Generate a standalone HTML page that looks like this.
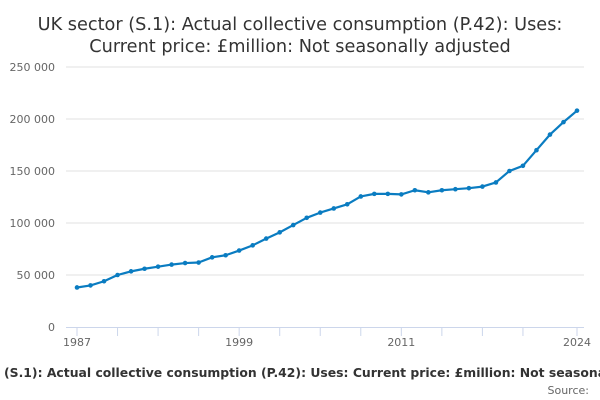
<!DOCTYPE html>
<html><head><meta charset="utf-8"><style>
html,body{margin:0;padding:0;background:#fff;width:600px;height:400px;overflow:hidden}
svg{font-family:"DejaVu Sans","Liberation Sans",sans-serif}
</style></head><body>
<svg id="chart" width="600" height="400">
<text x="300" y="30" text-anchor="middle" font-size="17.7" fill="#333"><tspan x="300" y="30">UK sector (S.1): Actual collective consumption (P.42): Uses:</tspan><tspan x="300" y="52">Current price: £million: Not seasonally adjusted</tspan></text>
<g id="grid"></g><g id="xaxis"></g><g id="series"></g>
<text x="4" y="377" font-size="12.4" font-weight="bold" fill="#333">(S.1): Actual collective consumption (P.42): Uses: Current price: £million: Not seasonally adjusted</text>
<text x="589" y="394" text-anchor="end" font-size="11" fill="#666">Source:</text>
</svg>
<script>
const years=[1987,1988,1989,1990,1991,1992,1993,1994,1995,1996,1997,1998,1999,2000,2001,2002,2003,2004,2005,2006,2007,2008,2009,2010,2011,2012,2013,2014,2015,2016,2017,2018,2019,2020,2021,2022,2023,2024];
const values=[38000,40000,44000,50000,53500,56000,58000,60000,61500,62000,67000,69000,73500,78500,85000,91000,98000,105000,110000,114000,118000,125500,128000,128000,127500,131500,129500,131500,132500,133500,135000,139000,150000,155000,170000,185000,197000,208000];
const yTicks=[0,50000,100000,150000,200000,250000];
const yTickLabels=["0","50 000","100 000","150 000","200 000","250 000"];
const xTickLabels=[1987,1999,2011,2024];
const xTickYears=[1987,1990,1993,1996,1999,2002,2005,2008,2011,2014,2017,2020,2024];
const NS="http://www.w3.org/2000/svg";
const x=v=>77+(v-1987)*(500/37);
const y=v=>327-v*(260/250000);
function mk(tag,attrs,parent,text){const e=document.createElementNS(NS,tag);for(const k in attrs)e.setAttribute(k,attrs[k]);if(text!==undefined)e.textContent=text;parent.appendChild(e);return e;}
const grid=document.getElementById('grid'),xa=document.getElementById('xaxis'),se=document.getElementById('series');
yTicks.forEach((t,i)=>{
  if(t>0){const l=mk('line',{x1:66,x2:584,y1:y(t),y2:y(t),stroke:'#e0e0e0','stroke-width':1},grid);
  
  }
  const tx=mk('text',{x:55,y:y(t)+4,'text-anchor':'end','font-size':11,fill:'#666'},grid,yTickLabels[i]);
  
  
});
const ax=mk('line',{x1:66,x2:584,y1:327.5,y2:327.5,stroke:'#ccd6eb','stroke-width':1},xa);


xTickYears.forEach(yr=>{
  const t=mk('line',{x1:x(yr),x2:x(yr),y1:328,y2:336,stroke:'#ccd6eb'},xa);
  
  
});
xTickLabels.forEach(yr=>{
  const t=mk('text',{x:x(yr),y:346,'text-anchor':'middle','font-size':11,fill:'#666'},xa,String(yr));
  
  
});
const pts=years.map((yr,i)=>x(yr)+','+y(values[i])).join(' ');
const pl=mk('polyline',{points:pts,fill:'none',stroke:'#0a7cc1','stroke-width':2.2,'stroke-linejoin':'round'},se);


years.forEach((yr,i)=>{
  const c=mk('circle',{cx:x(yr),cy:y(values[i]),r:2.3,fill:'#0a7cc1'},se);
  
  
});
</script>
</body></html>
